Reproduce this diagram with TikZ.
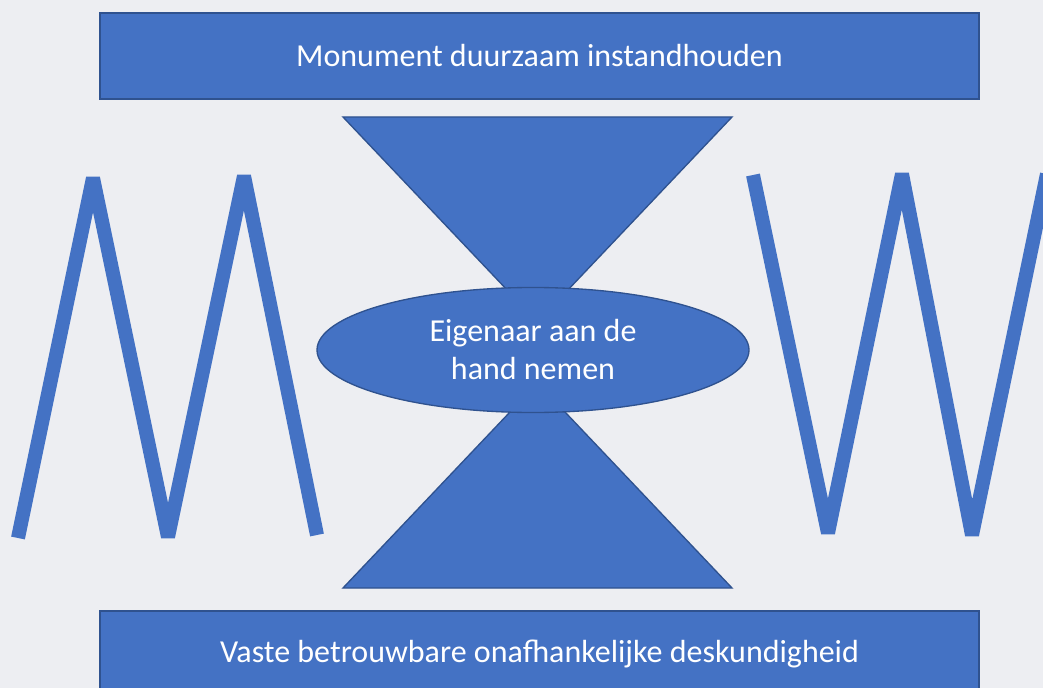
\documentclass[tikz,border=0pt]{standalone}
\usepackage{fontspec}
\setmainfont{Carlito}
\usetikzlibrary{shapes.geometric}

\definecolor{blokblauw}{RGB}{68,114,196}
\definecolor{randblauw}{RGB}{47,82,143}
\definecolor{achtergrond}{RGB}{237,238,242}

\tikzset{every picture/.style={line width=0.75pt}}
\tikzset{
	balk/.style={draw=randblauw, line width=1pt, fill=blokblauw, text=white, minimum width=659.25pt, minimum height=64.5pt, inner sep=0pt, font=\fontsize{24}{29}\selectfont},
	kern/.style={ellipse, draw=randblauw, line width=1pt, fill=blokblauw, text=white, minimum width=324pt, minimum height=93.75pt, inner sep=0pt, align=center, font=\fontsize{24}{28.5}\selectfont},
	kegel/.style={draw=randblauw, line width=1pt, fill=blokblauw},
	letter/.style={draw=blokblauw, line width=10.5pt, line join=bevel, line cap=butt}}

\begin{document}
\begin{tikzpicture}[x=0.75pt,y=0.75pt,yscale=-1,xscale=1]
	%set diagram size to 1043 x 688
	\fill[achtergrond] (0,0) rectangle (1043,688);
	\useasboundingbox (0,0) rectangle (1043,688);
	\clip (0,0) rectangle (1043,688);

	%Shape: Zigzag M [id:letterM] 
	\draw[letter]   (18,538) -- (93,178) -- (168,537) -- (244,176) -- (317,535) ;
	%Shape: Zigzag W [id:letterW] 
	\draw[letter]   (753,175) -- (828,533) -- (902,174) -- (972,535) -- (1047,174) ;

	%Shape: Triangle [id:kegelboven] 
	\draw[kegel]   (343,117) -- (732,117) -- (537.5,322) -- cycle ;
	%Shape: Triangle [id:kegelonder] 
	\draw[kegel]   (343,588) -- (732,588) -- (537.5,383) -- cycle ;

	% Text Node
	\node[balk] (doel) at (539.5,56) {Monument duurzaam instandhouden};
	% Text Node
	\node[balk] (basis) at (539.5,654) {Vaste betrouwbare onafhankelijke deskundigheid};
	% Text Node
	\node[kern] (eigenaar) at (533,350) {Eigenaar aan de\\hand nemen};

\end{tikzpicture}
\end{document}
